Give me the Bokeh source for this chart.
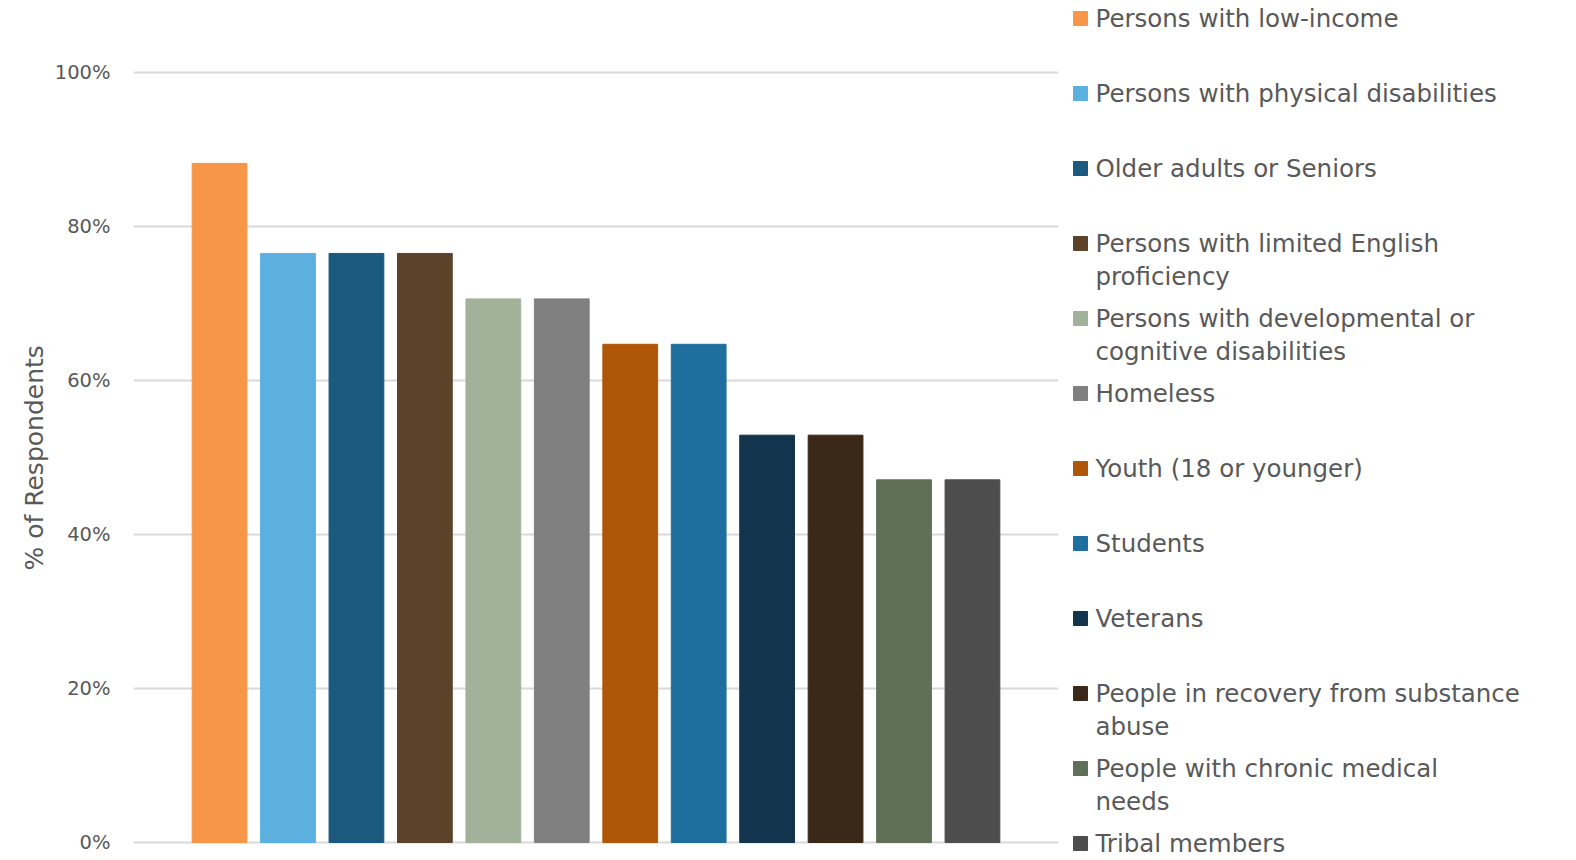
from bokeh.plotting import figure
from bokeh.models import Range1d, FixedTicker, NumeralTickFormatter, ColumnDataSource, Title
from bokeh.layouts import row
from bokeh.core.properties import value
from bokeh.embed import file_html
from bokeh.resources import INLINE

categories = [
    "Persons with low-income",
    "Persons with physical disabilities",
    "Older adults or Seniors",
    "Persons with limited English proficiency",
    "Persons with developmental or cognitive disabilities",
    "Homeless",
    "Youth (18 or younger)",
    "Students",
    "Veterans",
    "People in recovery from substance abuse",
    "People with chronic medical needs",
    "Tribal members",
]
legend_labels = [
    "Persons with low-income",
    "Persons with physical disabilities",
    "Older adults or Seniors",
    "Persons with limited English\nproficiency",
    "Persons with developmental or\ncognitive disabilities",
    "Homeless",
    "Youth (18 or younger)",
    "Students",
    "Veterans",
    "People in recovery from substance\nabuse",
    "People with chronic medical\nneeds",
    "Tribal members",
]
values = [0.882, 0.765, 0.765, 0.765, 0.706, 0.706, 0.647, 0.647, 0.529, 0.529, 0.471, 0.471]
colors = ["#F79646", "#5BB0DF", "#1B5A7E", "#5B4229", "#A2B29A", "#808080",
          "#B05608", "#1F6F9E", "#12354D", "#3A2918", "#607057", "#4D4D4D"]
y_ticks = [0, 0.2, 0.4, 0.6, 0.8, 1.0]

FONT = "DejaVu Sans"
TXT = "#595959"
H = 860
TOP_PX, BOT_PX = 72, 842   # pixel rows of 100% and 0%

idx = list(range(len(categories)))
src = ColumnDataSource(dict(x=idx, top=values, color=colors, name=categories))

span = BOT_PX - TOP_PX
gap = 0.757
p = figure(width=1060, height=H, output_backend="svg", toolbar_location=None,
           x_range=Range1d(-0.5 - gap, len(categories) - 0.5 + gap),
           y_range=Range1d(-(H - BOT_PX) / span, 1.0 + TOP_PX / span),
           min_border_left=133, min_border_right=2, min_border_top=0, min_border_bottom=0)
p.vbar(x="x", top="top", width=0.8, color="color", source=src)

p.outline_line_color = None
p.xaxis.visible = False
p.xgrid.grid_line_color = None
p.ygrid.grid_line_color = "#D9D9D9"
p.ygrid.grid_line_width = 2
p.yaxis.ticker = FixedTicker(ticks=y_ticks)
p.yaxis.formatter = NumeralTickFormatter(format="0%")
p.yaxis.axis_line_color = None
p.yaxis.major_tick_line_color = None
p.yaxis.minor_tick_line_color = None
p.yaxis.major_tick_out = 0
p.yaxis.major_tick_in = 0
p.yaxis.major_label_standoff = 23
p.yaxis.major_label_text_font = FONT
p.yaxis.major_label_text_font_size = "19.5px"
p.yaxis.major_label_text_color = TXT

ttl = Title(text="% of Respondents", align="left", offset=H - 570,
            text_font=FONT, text_font_size="25px", text_font_style="normal",
            text_color=TXT, standoff=6)
p.add_layout(ttl, "left")

# legend panel
first = [l.split("\n")[0] for l in legend_labels]
second = [l.split("\n")[1] if "\n" in l else "" for l in legend_labels]
lsrc = ColumnDataSource(dict(y=idx, color=colors, first=first, second=second,
                             sx=[20] * len(idx), tx=[35] * len(idx)))
leg = figure(width=516, height=H, output_backend="svg", toolbar_location=None,
             x_range=Range1d(0, 516), y_range=Range1d((H - 18) / 75, -18 / 75),
             min_border=0)
leg.rect(x="sx", y="y", width=14, height=14, width_units="screen", height_units="screen",
         color="color", source=lsrc)
leg.text(x="tx", y="y", text="first", source=lsrc, text_font=value(FONT),
         text_font_size="24.5px", text_color=TXT, text_baseline="middle", text_align="left")
leg.text(x="tx", y="y", text="second", source=lsrc, text_font=value(FONT),
         text_font_size="24.5px", text_color=TXT, text_baseline="middle", text_align="left",
         y_offset=33)
leg.axis.visible = False
leg.grid.visible = False
leg.outline_line_color = None

layout = row(p, leg, spacing=0)
open("out.html", "w").write(file_html(layout, INLINE))
